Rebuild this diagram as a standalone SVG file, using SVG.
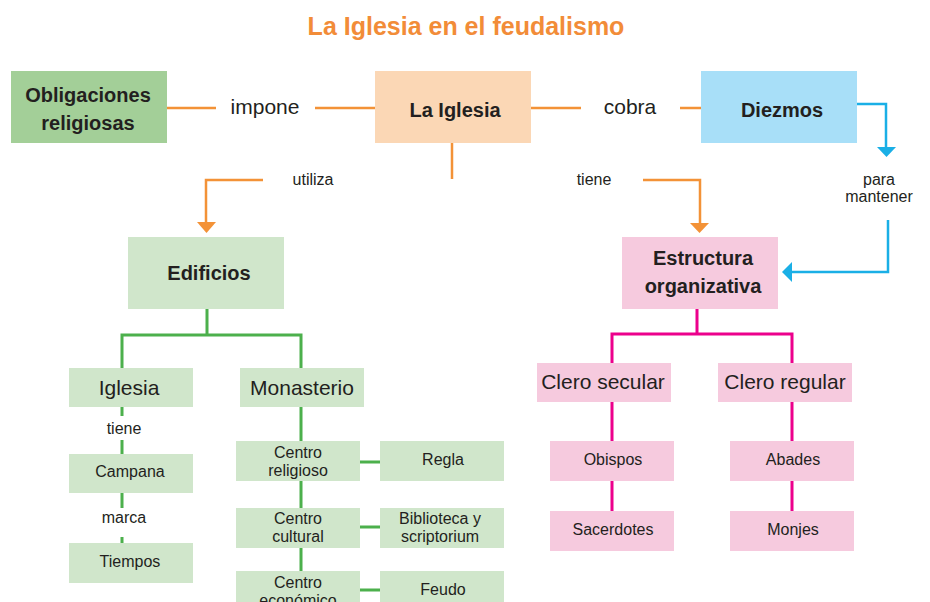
<svg xmlns="http://www.w3.org/2000/svg" width="930" height="602" viewBox="0 0 930 602">
<defs>
<style>
text{font-family:"Liberation Sans",Arial,sans-serif;fill:#231F20;text-anchor:middle}
.t{font-size:25px;font-weight:bold;fill:#F28C38}
.b{font-size:20px;font-weight:bold}
.m{font-size:21px}
.s{font-size:16px}
.or{stroke:#F39237;stroke-width:2.5;fill:none}
.bl{stroke:#1AAFE6;stroke-width:2.5;fill:none}
.gr{stroke:#4CB04C;stroke-width:3;fill:none}
.pk{stroke:#EC008C;stroke-width:3;fill:none}
.lg{fill:#D0E6CB}
.pi{fill:#F6CADE}
</style>
</defs>
<rect width="930" height="602" fill="#fff"/>
<text class="t" x="466" y="35">La Iglesia en el feudalismo</text>
<g id="connectors">
<path class="or" d="M167 108H216M315 108H375M531 108H581M680 108H701"/>
<path class="or" d="M452 143V179"/>
<path class="or" d="M263 180H206V224"/>
<polygon points="197,222 216,222 206.5,233" fill="#F39237"/>
<path class="or" d="M643 180H700V224"/>
<polygon points="690,223 709,223 699.5,233" fill="#F39237"/>
<path class="bl" d="M857 104H886V148"/>
<polygon points="877,147 896,147 886.5,157" fill="#1AAFE6"/>
<path class="bl" d="M888 220V272H790"/>
<polygon points="792,262 792,282 782,272" fill="#1AAFE6"/>
<path class="gr" d="M207 309V335M122 368V335H301V368"/>
<path class="gr" d="M122 407V416M122 440V454M122 493V508M122 537V543"/>
<path class="gr" d="M301 407V441M301 481V508M301 548V571M360 462H380M360 527H380M360 590H380"/>
<path class="pk" d="M697 309V334M612 363V334H792V363M612 402V441M612 481V511M792 402V441M792 481V511"/>
</g>
<text class="m" x="265" y="114">impone</text>
<text class="m" x="630" y="114">cobra</text>
<text class="s" x="313" y="185">utiliza</text>
<text class="s" x="594" y="185">tiene</text>
<text class="s" x="879" y="185">para</text>
<text class="s" x="879" y="202">mantener</text>
<text class="s" x="124" y="434">tiene</text>
<text class="s" x="124" y="523">marca</text>
<g id="obligaciones"><rect x="11" y="71" width="156" height="72" fill="#A3CF98"/><text class="b" x="88" y="102">Obligaciones</text><text class="b" x="88" y="130">religiosas</text></g>
<g id="iglesia-main"><rect x="375" y="71" width="156" height="72" fill="#FBD7B5"/><text class="b" x="455" y="117">La Iglesia</text></g>
<g id="diezmos"><rect x="701" y="71" width="156" height="72" fill="#A8DFF8"/><text class="b" x="782" y="117">Diezmos</text></g>
<g id="edificios"><rect class="lg" x="128" y="237" width="156" height="72"/><text class="b" x="209" y="280">Edificios</text></g>
<g id="estructura"><rect class="pi" x="622" y="237" width="156" height="72"/><text class="b" x="703" y="265">Estructura</text><text class="b" x="703" y="293">organizativa</text></g>
<g id="iglesia"><rect class="lg" x="69" y="368" width="124" height="39"/><text class="m" x="129" y="395">Iglesia</text></g>
<g id="monasterio"><rect class="lg" x="240" y="368" width="124" height="39"/><text class="m" x="302" y="395">Monasterio</text></g>
<g id="campana"><rect class="lg" x="69" y="454" width="124" height="39"/><text class="s" x="130" y="477">Campana</text></g>
<g id="tiempos"><rect class="lg" x="69" y="543" width="124" height="40"/><text class="s" x="130" y="567">Tiempos</text></g>
<g id="centro-religioso"><rect class="lg" x="236" y="441" width="124" height="40"/><text class="s" x="298" y="458">Centro</text><text class="s" x="298" y="476">religioso</text></g>
<g id="regla"><rect class="lg" x="380" y="441" width="124" height="40"/><text class="s" x="443" y="465">Regla</text></g>
<g id="centro-cultural"><rect class="lg" x="236" y="508" width="124" height="40"/><text class="s" x="298" y="524">Centro</text><text class="s" x="298" y="542">cultural</text></g>
<g id="biblioteca"><rect class="lg" x="380" y="508" width="124" height="40"/><text class="s" x="440" y="524">Biblioteca y</text><text class="s" x="440" y="542">scriptorium</text></g>
<g id="centro-economico"><rect class="lg" x="236" y="571" width="124" height="40"/><text class="s" x="298" y="588">Centro</text><text class="s" x="298" y="606">económico</text></g>
<g id="feudo"><rect class="lg" x="380" y="571" width="124" height="40"/><text class="s" x="443" y="595">Feudo</text></g>
<g id="clero-secular"><rect class="pi" x="537" y="363" width="134" height="39"/><text class="m" x="603" y="389">Clero secular</text></g>
<g id="clero-regular"><rect class="pi" x="718" y="363" width="134" height="39"/><text class="m" x="785" y="389">Clero regular</text></g>
<g id="obispos"><rect class="pi" x="550" y="441" width="124" height="40"/><text class="s" x="613" y="465">Obispos</text></g>
<g id="sacerdotes"><rect class="pi" x="550" y="511" width="124" height="40"/><text class="s" x="613" y="535">Sacerdotes</text></g>
<g id="abades"><rect class="pi" x="730" y="441" width="124" height="40"/><text class="s" x="793" y="465">Abades</text></g>
<g id="monjes"><rect class="pi" x="730" y="511" width="124" height="40"/><text class="s" x="793" y="535">Monjes</text></g>
</svg>
